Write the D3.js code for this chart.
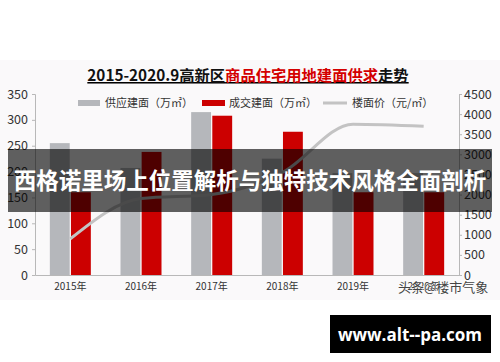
<!DOCTYPE html>
<html>
<head>
<meta charset="utf-8">
<script src="https://cdn.jsdelivr.net/npm/d3@7"></script>
<style>
  body { margin: 0; background: #fff; }
  svg { display: block; font-family: "Noto Sans CJK SC", "Noto Sans", sans-serif; }
</style>
</head>
<body>
<div class="visHolder"></div>
<script>
const years = ['2015年', '2016年', '2017年', '2018年', '2019年', '2020年']
const supply = [255, 207, 315, 225, 197, 197]
const deal = [160, 238, 308, 277, 160, 160]
const price = [900, 1900, 2000, 2550, 3750, 3700]
const leftTicks = [0, 50, 100, 150, 200, 250, 300, 350]
const rightTicks = [0, 500, 1000, 1500, 2000, 2500, 3000, 3500, 4000, 4500]

function init() {
    const width = 500
    const height = 362
    const top = 94
    const bottom = 275
    const left = 35
    const right = 459

    const svg = d3.select('.visHolder')
        .append('svg')
        .attr('width', width)
        .attr('height', height)

    // light chart background
    svg.append('rect')
        .attr('x', 0).attr('y', 60)
        .attr('width', width).attr('height', 240)
        .attr('fill', '#faf9fa')

    // title
    const title = svg.append('text')
        .attr('x', 248)
        .attr('y', 81)
        .attr('text-anchor', 'middle')
        .attr('font-size', 15.3)
        .attr('font-weight', 'bold')
        .attr('text-decoration', 'underline')
    title.append('tspan').attr('fill', '#111').text('2015-2020.9高新区')
    title.append('tspan').attr('fill', '#d40000').text('商品住宅用地建面供求')
    title.append('tspan').attr('fill', '#111').text('走势')

    const xScale = d3.scaleBand()
        .domain(years)
        .range([left, right])

    const subScale = d3.scaleBand()
        .domain(['supply', 'deal'])
        .range([0, 41])
        .paddingInner(0.06)

    const yLeft = d3.scaleLinear()
        .domain([0, 350])
        .range([bottom, top])

    const yRight = d3.scaleLinear()
        .domain([0, 4500])
        .range([bottom, top])

    const leftAxis = d3.axisLeft(yLeft).tickValues(leftTicks).tickSize(3).tickPadding(4)
    const rightAxis = d3.axisRight(yRight).tickValues(rightTicks).tickFormat(d3.format('d')).tickSize(3).tickPadding(2)
    const xAxis = d3.axisBottom(xScale).tickSize(0).tickPadding(8)

    const gl = svg.append('g')
        .attr('transform', `translate(${left}, 0)`)
        .call(leftAxis)
    const gr = svg.append('g')
        .attr('transform', `translate(${right}, 0)`)
        .call(rightAxis)
    const gx = svg.append('g')
        .attr('transform', `translate(0, ${bottom})`)
        .call(xAxis)

    ;[gl, gr, gx].forEach(g => {
        g.selectAll('path, line').attr('stroke', '#b8b8b8')
        g.selectAll('text').attr('fill', '#333').attr('font-family', '"Noto Sans CJK SC", sans-serif')
    })
    gl.selectAll('text').attr('font-size', 12.5)
    gr.selectAll('text').attr('font-size', 12.5)
    gx.selectAll('text').attr('font-size', 10)

    const groups = svg.append('g')
        .selectAll('g')
        .data(years)
        .enter()
        .append('g')
        .attr('transform', d => `translate(${xScale(d) + xScale.bandwidth() / 2 - 20.5}, 0)`)

    groups.append('rect')
        .attr('x', subScale('supply'))
        .attr('y', (d, i) => yLeft(supply[i]))
        .attr('width', subScale.bandwidth())
        .attr('height', (d, i) => bottom - yLeft(supply[i]))
        .attr('fill', '#b5b7bb')

    groups.append('rect')
        .attr('x', subScale('deal'))
        .attr('y', (d, i) => yLeft(deal[i]))
        .attr('width', subScale.bandwidth())
        .attr('height', (d, i) => bottom - yLeft(deal[i]))
        .attr('fill', '#cc0000')

    const line = d3.line()
        .x((d, i) => xScale(years[i]) + xScale.bandwidth() / 2)
        .y(d => yRight(d))
        .curve(d3.curveMonotoneX)

    svg.append('path')
        .datum(price)
        .attr('d', line)
        .attr('fill', 'none')
        .attr('stroke', '#c3c3c3')
        .attr('stroke-width', 3)

    // legend
    const legend = svg.append('g').attr('font-size', 11).attr('fill', '#333')
    legend.append('rect').attr('x', 78).attr('y', 100).attr('width', 22).attr('height', 6).attr('fill', '#b5b7bb')
    legend.append('text').attr('x', 105).attr('y', 107).attr('fill', '#333').text('供应建面（万㎡）')
    legend.append('rect').attr('x', 202).attr('y', 100).attr('width', 23).attr('height', 6).attr('fill', '#cc0000')
    legend.append('text').attr('x', 229).attr('y', 107).attr('fill', '#333').text('成交建面（万㎡）')
    legend.append('line').attr('x1', 323).attr('x2', 347).attr('y1', 103).attr('y2', 103)
        .attr('stroke', '#c3c3c3').attr('stroke-width', 3)
    legend.append('text').attr('x', 352).attr('y', 107).attr('fill', '#333').text('楼面价（元/㎡）')

    // watermark
    svg.append('text')
        .attr('x', 398)
        .attr('y', 292)
        .attr('font-size', 13)
        .attr('fill', '#444')
        .attr('stroke', '#fff')
        .attr('stroke-width', 0.6)
        .attr('paint-order', 'stroke')
        .text('头条@楼市气象')

    // banner overlay
    svg.append('rect')
        .attr('x', 8).attr('y', 149)
        .attr('width', 484).attr('height', 63)
        .attr('fill', 'rgba(0, 0, 0, 0.62)')
    svg.append('text')
        .attr('x', 250)
        .attr('y', 189)
        .attr('text-anchor', 'middle')
        .attr('font-size', 22.5)
        .attr('font-weight', 'bold')
        .attr('fill', '#fff')
        .text('西格诺里场上位置解析与独特技术风格全面剖析')

    // site box
    svg.append('rect')
        .attr('x', 330).attr('y', 315)
        .attr('width', 161).attr('height', 38)
        .attr('fill', '#000')
    svg.append('text')
        .attr('x', 410)
        .attr('y', 341)
        .attr('text-anchor', 'middle')
        .attr('font-size', 17)
        .attr('font-weight', 'bold')
        .attr('font-family', '"Open Sans", sans-serif')
        .attr('fill', '#fff')
        .text('www.alt--pa.com')
}

init()
</script>
</body>
</html>
